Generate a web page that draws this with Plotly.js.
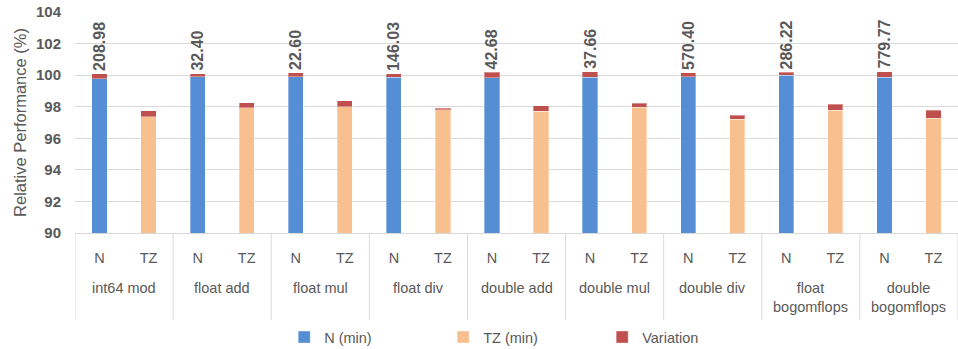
<!DOCTYPE html>
<html><head><meta charset="utf-8">
<script src="https://cdn.plot.ly/plotly-3.0.1.min.js"></script>
<style>html,body{margin:0;padding:0;background:#fff}#chart{width:958px;height:349px}</style>
</head><body><div id="chart"></div>
<script>
const groups = ["int64 mod","float add","float mul","float div","double add","double mul","double div","float<br>bogomflops","double<br>bogomflops"];
const configs = ["N","TZ"];
const nMin = [99.78, 99.89, 99.89, 99.87, 99.83, 99.87, 99.89, 99.98, 99.87];
const nVar = [0.30, 0.21, 0.25, 0.21, 0.34, 0.34, 0.25, 0.19, 0.36];
const tzMin = [97.37, 97.94, 98.00, 97.81, 97.71, 97.96, 97.22, 97.77, 97.28];
const tzVar = [0.36, 0.30, 0.38, 0.10, 0.34, 0.26, 0.25, 0.40, 0.51];
const nLabels = ["208.98","32.40","22.60","146.03","42.68","37.66","570.40","286.22","779.77"];

const xKeys = [], xText = [], yN = [], yTZ = [], yVar = [], txt = [];
groups.forEach((g, i) => {
  configs.forEach(c => {
    xKeys.push(g + "|" + c); xText.push(c);
    if (c === "N") { yN.push(nMin[i]); yTZ.push(null); yVar.push(nVar[i]); txt.push(nLabels[i]); }
    else { yN.push(null); yTZ.push(tzMin[i]); yVar.push(tzVar[i]); txt.push(""); }
  });
});
const gray = "#595959";
const grid = "#d9d9d9";
const font = "Liberation Sans, Arial, sans-serif";
const lineCol = "rgba(255,255,255,0.35)";
const traces = [
  {type:"bar", name:"N (min)", x:xKeys, y:yN, marker:{color:"#558ed5", line:{color:lineCol, width:1}}},
  {type:"bar", name:"TZ (min)", x:xKeys, y:yTZ, marker:{color:"#f9c08f", line:{color:lineCol, width:1}}},
  {type:"bar", name:"Variation", x:xKeys, y:yVar, text:txt, textposition:"outside", textangle:-90,
   constraintext:"none", cliponaxis:false,
   textfont:{family:font, size:16, color:gray, weight:"bold"},
   marker:{color:"#c0504d", line:{color:lineCol, width:1}}}
];
const nG = groups.length, per = configs.length;
const shapes = [];
for (let i = 0; i <= nG; i++) {
  shapes.push({type:"line", xref:"x", yref:"paper", x0:i*per-0.5, x1:i*per-0.5, y0:0, y1:-0.394,
    line:{color:grid, width:1}, layer:"above"});
}
const annotations = groups.map((g, i) => ({
  xref:"x", yref:"paper", x:i*per+(per-1)/2, y:0, yanchor:"top", yshift:-45,
  text:g, showarrow:false, font:{family:font, size:14.5, color:gray}, align:"center"
}));
const layout = {
  width:958, height:349,
  margin:{l:75, r:0, t:12, b:116},
  barmode:"stack", bargap:0.69,
  paper_bgcolor:"#fff", plot_bgcolor:"#fff",
  font:{family:font, color:gray, size:14},
  xaxis:{type:"category", tickvals:xKeys, ticktext:xText, showgrid:false, showline:true, linecolor:grid,
    ticks:"", ticklabelstandoff:12, tickfont:{family:font, size:14.5, color:gray}, range:[-0.5, nG*per-0.5]},
  yaxis:{range:[90,104], dtick:2, tick0:90, showgrid:true, gridcolor:grid, gridwidth:1,
    zeroline:false, showline:false, ticks:"", ticklabelstandoff:13,
    tickfont:{family:font, size:15, color:gray, weight:"bold"},
    title:{text:"Relative Performance (%)", font:{family:font, size:16.5, color:gray}, standoff:5}},
  shapes:shapes, annotations:annotations,
  showlegend:true,
  legend:{orientation:"h", xref:"paper", x:0.507, xanchor:"center", yref:"container", y:0.034, yanchor:"middle",
    entrywidth:114, font:{family:font, size:14.5, color:gray}, traceorder:"normal"}
};
Plotly.newPlot("chart", traces, layout, {displayModeBar:false, staticPlot:true});
</script></body></html>
